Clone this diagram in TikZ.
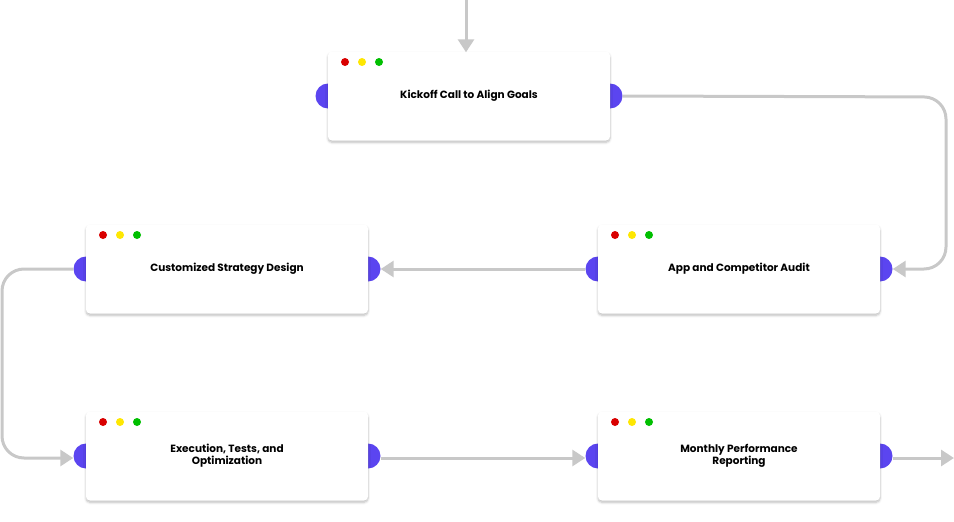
\documentclass[tikz,border=0pt]{standalone}
\usepackage{fontspec}
\setmainfont{Poppins}
\usetikzlibrary{arrows.meta,shadows.blur}
\definecolor{pur}{HTML}{5B45F0}
\definecolor{con}{HTML}{C8C8C8}
\tikzset{
 box/.style={fill=white,rounded corners=4pt,minimum width=282pt,minimum height=89pt,blur shadow={shadow xshift=0pt,shadow yshift=-2pt,shadow blur steps=6,shadow opacity=25},font=\bfseries\fontsize{10.5}{12}\selectfont,align=center,inner sep=0pt},
 port/.style={circle,fill=pur,minimum size=25pt,inner sep=0pt},
 conn/.style={draw=con,line width=3pt,rounded corners=22pt},
 arr/.style={conn,-{Triangle[length=13pt,width=16pt]}},
 dot/.style={circle,minimum size=8pt,inner sep=0pt}
}
\newcommand{\procbox}[4]{%
 \node[port] (#1L) at (#2-141,#3) {};
 \node[port] (#1R) at (#2+141,#3) {};
 \node[box] (#1) at (#2,#3) {#4};
 \node[dot,fill=red!85!black] (#1d1) at (#2-124,#3-34) {};
 \node[dot,fill=yellow!90!orange] (#1d2) at (#2-107,#3-34) {};
 \node[dot,fill=green!75!black] (#1d3) at (#2-90,#3-34) {};
}
\begin{document}
\begin{tikzpicture}[x=1pt,y=-1pt]
\useasboundingbox (0,0) rectangle (954,522);
\procbox{k}{469}{96}{Kickoff Call to Align Goals}
\procbox{c}{227}{269}{Customized Strategy Design}
\procbox{a}{739}{269}{App and Competitor Audit}
\procbox{e}{227}{456}{Execution, Tests, and\\Optimization}
\procbox{m}{739}{456}{Monthly Performance\\Reporting}
\coordinate (top) at (466,0);
\coordinate (endp) at (954,458);
\draw[arr] (top) -- ([yshift=-1pt]k.north -| top);
\draw[arr] (kR.east) -- (946,97) -- (946,269) -- (aR.east);
\draw[arr] (aL.west) -- (cR.east);
\draw[arr] (cL.west) -- (2,269) -- (2,458) -- (eL.west |- 0,458);
\draw[arr] (eR.east |- 0,458) -- (mL.west |- 0,458);
\draw[arr] (mR.east |- 0,458) -- (endp);
\end{tikzpicture}
\end{document}
